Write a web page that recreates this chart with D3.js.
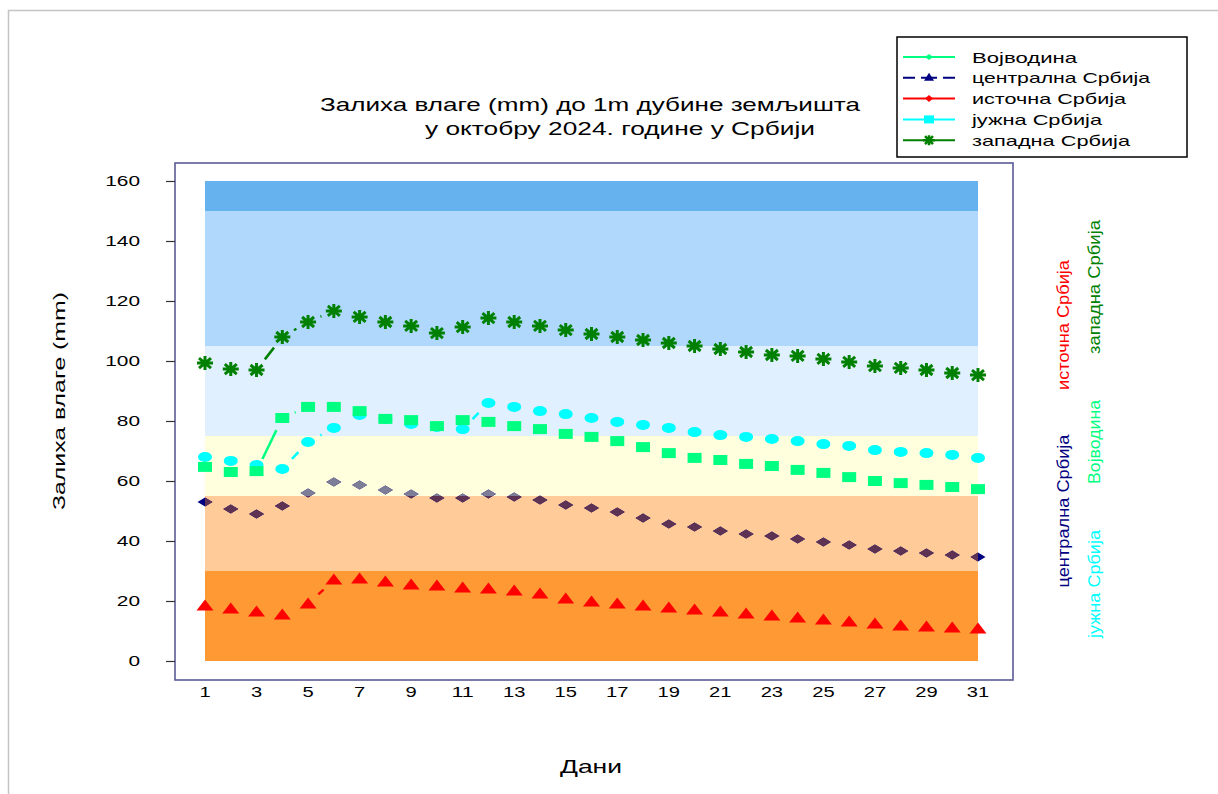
<!DOCTYPE html>
<html>
<head>
<meta charset="utf-8">
<script src="https://cdn.jsdelivr.net/npm/d3@7"></script>
<style>
body{margin:0;background:#fff;}
text{font-family:"Liberation Sans",Arial,sans-serif;}
</style>
</head>
<body>
<script>
// dani u mesecu
var days = d3.range(1, 32);
var xTicks = [1,3,5,7,9,11,13,15,17,19,21,23,25,27,29,31];
var yTicks = [0,20,40,60,80,100,120,140,160];

// vrednosti ocitane sa slike (mm)
var vojvodina = [64.7,63,63.3,81,84.7,84.7,83.3,80.7,80.3,78.3,80.3,79.7,78.3,77.3,75.7,74.7,73.3,71.3,69.3,67.7,67,65.7,65,63.7,62.7,61.3,60,59.3,58.7,58,57.3];
var centralna = [53,50.7,49,51.7,56,59.7,58.7,57,55.7,54.3,54.3,55.7,54.7,53.7,52,51,49.7,47.7,45.7,44.7,43.3,42.3,41.7,40.7,39.7,38.7,37.3,36.7,36,35.3,34.7];
var istocna = [18.3,17.3,16.3,15.3,19,27,27.3,26.3,25.3,25,24.3,24,23.3,22.3,20.7,19.7,19,18.3,17.7,17,16.3,15.7,15,14.3,13.7,13,12.3,11.7,11.3,11,10.7];
var juzna = [68,66.7,65.3,64,73,77.7,82,80.7,79,78,77.3,86,84.7,83.3,82.3,81,79.7,78.7,77.7,76.3,75.3,74.7,74,73.3,72.3,71.7,70.3,69.7,69.3,68.7,67.7];
var zapadna = [99.3,97.3,97,108,113,116.7,114.7,113,111.7,109.3,111.3,114.3,113,111.7,110.3,109,108,107,106,105,104,103,102,101.7,100.7,99.7,98.3,97.7,97,96,95.3];

// pojasevi u pozadini
var bandLo = [0,30,55,75,105,150];
var bandHi = [30,55,75,105,150,160];
var bandColors = ["#ff9933","#ffcc99","#ffffdd","#e1f0ff","#b0d8fc","#66b2ee"];

var seriesNames = ["Војводина","централна Србија","источна Србија","јужна Србија","западна Србија"];

var W = 1218, H = 794;
var svg = d3.select("body").append("svg").attr("width", W).attr("height", H);

var x = d3.scaleLinear().domain([1,31]).range([205,978]);
var y = d3.scaleLinear().domain([0,160]).range([661,181]);

// spoljni okvir
svg.append("rect").attr("x",8.5).attr("y",10.5).attr("width",1230).attr("height",800)
  .attr("fill","#fff").attr("stroke","#c4c4c4").attr("stroke-width",1.5);

// okvir grafikona
svg.append("rect").attr("x",175).attr("y",163).attr("width",838).attr("height",517)
  .attr("fill","#fff").attr("stroke","#5b5b95").attr("stroke-width",1.6);

var defs = svg.append("defs");
bandLo.forEach(function(lo,i){
  svg.append("rect")
    .attr("x", x(1)).attr("width", x(31)-x(1))
    .attr("y", y(bandHi[i])).attr("height", y(lo)-y(bandHi[i]))
    .attr("fill", bandColors[i]);
  defs.append("clipPath").attr("id","band"+i)
    .append("rect")
    .attr("x", x(1)).attr("width", x(31)-x(1))
    .attr("y", y(bandHi[i])).attr("height", y(lo)-y(bandHi[i]));
});

// osa y
var yAxis = svg.append("g").attr("transform","translate(175,0)")
  .call(d3.axisLeft(y).tickValues(yTicks).tickSize(9).tickPadding(26));
yAxis.select(".domain").remove();
yAxis.selectAll(".tick line").attr("stroke","#333").attr("stroke-width",1.2);
yAxis.selectAll(".tick text").attr("font-size",15.5).attr("fill","#000")
  .attr("textLength", function(d){ return String(d).length*11.6; })
  .attr("lengthAdjust","spacingAndGlyphs");

// osa x
svg.append("g").selectAll("text").data(xTicks).enter().append("text")
  .attr("x", function(d){ return x(d); }).attr("y", 697)
  .attr("text-anchor","middle").attr("font-size",15.5)
  .attr("textLength", function(d){ return String(d).length*11.2; })
  .attr("lengthAdjust","spacingAndGlyphs")
  .text(function(d){ return d; });

// naslovi
svg.append("text").attr("x",590).attr("y",111).attr("text-anchor","middle").attr("font-size",18.5)
  .attr("textLength",540).attr("lengthAdjust","spacingAndGlyphs")
  .text("Залиха влаге (mm) до 1m дубине земљишта");
svg.append("text").attr("x",620).attr("y",135).attr("text-anchor","middle").attr("font-size",18.5)
  .attr("textLength",390).attr("lengthAdjust","spacingAndGlyphs")
  .text("у октобру 2024. године у Србији");
svg.append("text").attr("x",591).attr("y",773).attr("text-anchor","middle").attr("font-size",18.5)
  .attr("textLength",62).attr("lengthAdjust","spacingAndGlyphs")
  .text("Дани");
svg.append("text").attr("transform","translate(65,401) rotate(-90)").attr("text-anchor","middle")
  .attr("font-size",16.5).attr("textLength",218).attr("lengthAdjust","spacingAndGlyphs")
  .text("Залиха влаге (mm)");

// markeri
var asterisk = "M-8,0L8,0M0,-7L0,7M-6,-5L6,5M-6,5L6,-5";
var diamond = "M0,-4.5L7.5,0L0,4.5L-7.5,0Z";
var triangle = "M0,-6.5L8.5,4.5L-8.5,4.5Z";
var square = "M-7,-5L7,-5L7,5L-7,5Z";

// isprekidani spojevi (vide se samo gde je skok veci)
var connect = function(vals, color, w, m){
  var g = svg.append("g");
  for (var i = 0; i < vals.length-1; i++) {
    var x0 = x(days[i]), y0 = y(vals[i]), x1 = x(days[i+1]), y1 = y(vals[i+1]);
    var L = Math.sqrt((x1-x0)*(x1-x0)+(y1-y0)*(y1-y0));
    if (L <= 2*m+1) continue;
    var ux = (x1-x0)/L, uy = (y1-y0)/L;
    g.append("line")
      .attr("x1", x0+ux*m).attr("y1", y0+uy*m)
      .attr("x2", x1-ux*m).attr("y2", y1-uy*m)
      .attr("stroke", color).attr("stroke-width", w);
  }
};

connect(zapadna, "#008000", 2.5, 13.5);
connect(vojvodina, "#00ff80", 2.5, 13.5);
connect(juzna, "#00ffff", 2.5, 14);
connect(centralna, "#000080", 2, 16);
connect(istocna, "#ff0000", 2.5, 14);

var pts = function(vals){ return days.map(function(d,i){ return {d:d, v:vals[i]}; }); };

// centralna: tamnoplava, a unutar pojaseva menja boju
var drawDiamonds = function(fill, clip){
  var g = svg.append("g");
  if (clip) g.attr("clip-path","url(#"+clip+")");
  g.selectAll("path").data(pts(centralna)).enter().append("path")
    .attr("d", diamond)
    .attr("transform", function(p){ return "translate("+x(p.d)+","+y(p.v)+")"; })
    .attr("fill", fill);
};
drawDiamonds("#000080", null);
drawDiamonds("#5e3252", "band1");
drawDiamonds("#7d7d98", "band2");

svg.append("g").selectAll("path").data(pts(istocna)).enter().append("path")
  .attr("d", triangle)
  .attr("transform", function(p){ return "translate("+x(p.d)+","+y(p.v)+")"; })
  .attr("fill", "#ff0000");

svg.append("g").selectAll("ellipse").data(pts(juzna)).enter().append("ellipse")
  .attr("cx", function(p){ return x(p.d); }).attr("cy", function(p){ return y(p.v); })
  .attr("rx", 7).attr("ry", 5)
  .attr("fill", "#00ffff");

svg.append("g").selectAll("path").data(pts(vojvodina)).enter().append("path")
  .attr("d", square)
  .attr("transform", function(p){ return "translate("+x(p.d)+","+y(p.v)+")"; })
  .attr("fill", "#00ff80");

svg.append("g").selectAll("path").data(pts(zapadna)).enter().append("path")
  .attr("d", asterisk)
  .attr("transform", function(p){ return "translate("+x(p.d)+","+y(p.v)+")"; })
  .attr("stroke", "#008000").attr("stroke-width", 3).attr("fill","none");

// legenda
var lg = svg.append("g");
lg.append("rect").attr("x",897).attr("y",37).attr("width",290).attr("height",120)
  .attr("fill","#fff").attr("stroke","#000").attr("stroke-width",1.5);
var legColors = ["#00ff80","#000080","#ff0000","#00ffff","#008000"];
var legMarks = ["M0,-3L4,0L0,3L-4,0Z","M0,-5L5,3L-5,3Z","M0,-3.5L4,0L0,3.5L-4,0Z","M-5,-4L5,-4L5,4L-5,4Z", "M-6,0L6,0M0,-5L0,5M-4,-4L4,4M-4,4L4,-4"];
var legLens = [105,178,154,130,158];
seriesNames.forEach(function(n,i){
  var cy = 57 + i*20.8;
  lg.append("line").attr("x1",903).attr("x2",955).attr("y1",cy).attr("y2",cy)
    .attr("stroke",legColors[i]).attr("stroke-width",2)
    .attr("stroke-dasharray", i==1 ? "12,6,16,6,12" : null);
  var mk = lg.append("path").attr("d",legMarks[i]).attr("transform","translate(929,"+cy+")");
  if (i==4) mk.attr("stroke",legColors[i]).attr("stroke-width",2.5).attr("fill","none");
  else mk.attr("fill",legColors[i]);
  lg.append("text").attr("x",972).attr("y",cy+5.5).attr("font-size",15)
    .attr("textLength",legLens[i]).attr("lengthAdjust","spacingAndGlyphs").text(n);
});

// uspravni nazivi desno
var sideLabels = [
  {t:"источна Србија", x:1063, y:325, len:130, c:"#ff0000"},
  {t:"централна Србија", x:1063, y:511, len:153, c:"#000080"},
  {t:"западна Србија", x:1094, y:287, len:134, c:"#008000"},
  {t:"Војводина", x:1094, y:442, len:84, c:"#00ff80"},
  {t:"јужна Србија", x:1094, y:584, len:108, c:"#00ffff"}
];
svg.append("g").selectAll("text").data(sideLabels).enter().append("text")
  .attr("transform", function(d){ return "translate("+(d.x+6)+","+d.y+") rotate(-90)"; })
  .attr("text-anchor","middle").attr("font-size",17)
  .attr("textLength", function(d){ return d.len; }).attr("lengthAdjust","spacingAndGlyphs")
  .attr("fill", function(d){ return d.c; })
  .text(function(d){ return d.t; });
</script>
</body>
</html>
